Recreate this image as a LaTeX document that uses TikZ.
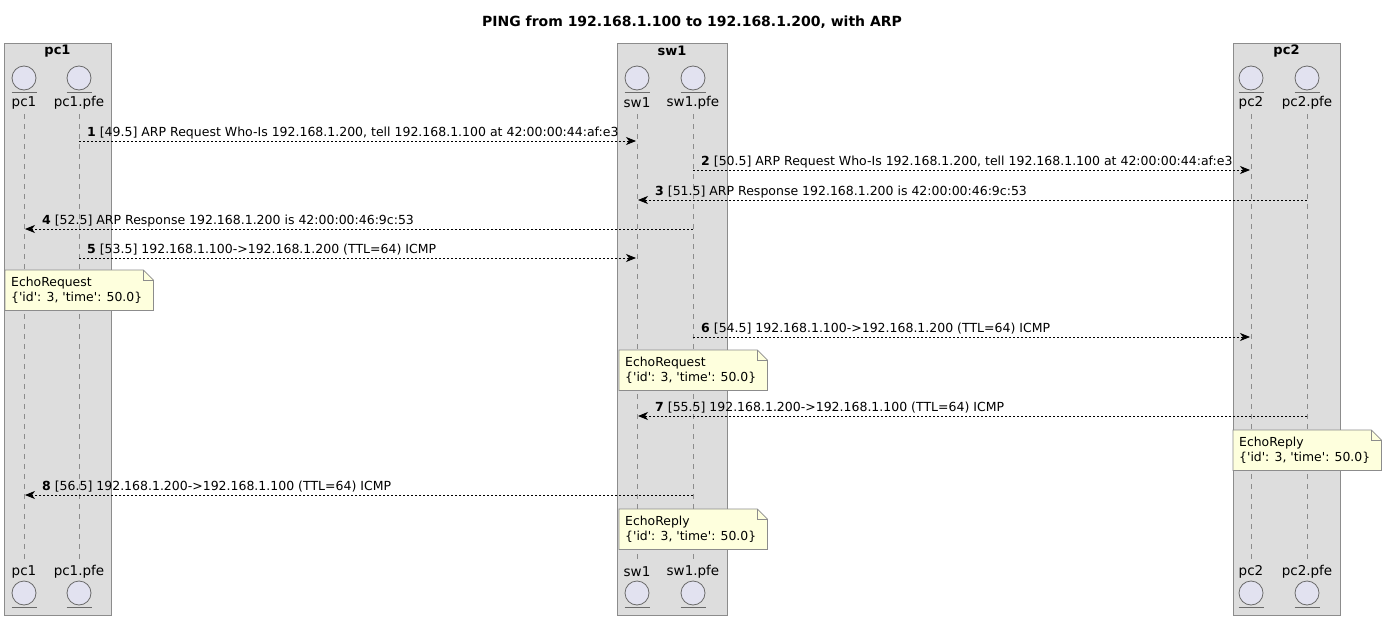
\documentclass[tikz,border=0pt]{standalone}
\usepackage{fontspec}
\setmainfont{DejaVu Sans}
\usetikzlibrary{arrows.meta}

\definecolor{grpfill}{HTML}{DDDDDD}
\definecolor{grpline}{HTML}{8C8C8C}
\definecolor{entfill}{HTML}{E2E2F0}
\definecolor{entline}{HTML}{6A6A6A}
\definecolor{notefill}{HTML}{FEFFDD}
\definecolor{noteline}{HTML}{8C8C8C}
\definecolor{lifecol}{HTML}{8C8C8C}

\newcommand{\q}{\textquotesingle}
\newcommand{\entitymark}[3]{% name, x, y of circle centre
  \node[entcirc] (#1) at (#2,#3) {};
  \draw[entline, line width=1pt] ([xshift=-12.5pt,yshift=-14pt]#1.center) -- ([xshift=12.5pt,yshift=-14pt]#1.center);
}
\newcommand{\notebox}[4]{% name, x, y, text
  \node[notenode] (#1) at (#2,#3) {};
  \draw[noteline, fill=notefill, line width=0.8pt] (#1.north west) -- ([xshift=-10pt]#1.north east) -- ([yshift=-10pt]#1.north east) -- (#1.south east) -- (#1.south west) -- cycle;
  \draw[noteline, line width=0.8pt] ([xshift=-10pt]#1.north east) -- ([xshift=-10pt,yshift=-10pt]#1.north east) -- ([yshift=-10pt]#1.north east);
  \node[notetext] (#1-text) at (#1.west) {#4};
}

\begin{document}
\begin{tikzpicture}[x=1pt, y=-1pt,
  grp/.style={draw=grpline, fill=grpfill, line width=1pt},
  grptitle/.style={font=\fontsize{13}{15}\selectfont\bfseries, inner sep=0pt},
  entcirc/.style={circle, draw=entline, fill=entfill, line width=0.8pt, minimum size=24pt, inner sep=0pt},
  entname/.style={font=\fontsize{13.5}{16}\selectfont, inner sep=0pt},
  life/.style={draw=lifecol, line width=0.8pt, dash pattern=on 5pt off 5pt},
  msg/.style={draw=black, line width=0.8pt, dash pattern=on 2pt off 2pt, -{Stealth[length=10pt, width=8pt, inset=3pt]}},
  msglabel/.style={font=\fontsize{12.5}{15}\selectfont, anchor=base west, inner sep=0pt},
  notenode/.style={minimum width=148pt, minimum height=40pt, inner sep=0pt, anchor=north west},
  notetext/.style={font=\fontsize{12.4}{15}\selectfont, align=left, anchor=west, xshift=6pt, inner sep=0pt},
  ttl/.style={font=\fontsize{14}{16}\selectfont\bfseries, inner sep=0pt}
]
\useasboundingbox (0,0) rectangle (1387,621);

% title
\node[ttl] (title) at (692,22) {PING from 192.168.1.100 to 192.168.1.200, with ARP};

% groups
\draw[grp] (4,43) rectangle (111,615);
\draw[grp] (617,43) rectangle (727,615);
\draw[grp] (1233,43) rectangle (1340,615);
\node[grptitle] (g1) at (57.5,51) {pc1};
\node[grptitle] (g2) at (672,51) {sw1};
\node[grptitle] (g3) at (1286.5,51) {pc2};

% participants, head row
\entitymark{pc1}{24}{78}
\entitymark{pc1pfe}{79}{78}
\entitymark{sw1}{637}{78}
\entitymark{sw1pfe}{693}{78}
\entitymark{pc2}{1251}{78}
\entitymark{pc2pfe}{1307}{78}
% participants, foot row
\entitymark{pc1b}{24}{593}
\entitymark{pc1pfeb}{79}{593}
\entitymark{sw1b}{637}{593}
\entitymark{sw1pfeb}{693}{593}
\entitymark{pc2b}{1251}{593}
\entitymark{pc2pfeb}{1307}{593}

\foreach \n/\t in {pc1/pc1, pc1pfe/pc1.pfe, sw1/sw1, sw1pfe/sw1.pfe, pc2/pc2, pc2pfe/pc2.pfe}{
  \node[entname] (\n-top) at ([yshift=-25pt]\n.center) {\t};
  \node[entname] (\n-bot) at ([yshift=21pt]\n b.center) {\t};
}

% lifelines
\foreach \n in {pc1, pc1pfe, sw1, sw1pfe, pc2, pc2pfe}{
  \draw[life] ([yshift=-11pt]\n-top.center) -- ([yshift=10pt]\n-bot.center);
}

% message rows
\coordinate (r1) at (0,141);
\coordinate (r2) at (0,170);
\coordinate (r3) at (0,200);
\coordinate (r4) at (0,229);
\coordinate (r5) at (0,258);
\coordinate (r6) at (0,337);
\coordinate (r7) at (0,416);
\coordinate (r8) at (0,495);

\draw[msg] (pc1pfe |- r1) -- ([xshift=-1pt]sw1 |- r1);
\node[msglabel] (l1) at ([xshift=8pt,yshift=4.5pt]pc1pfe |- r1) {\textbf{1} [49.5] ARP Request Who-Is 192.168.1.200, tell 192.168.1.100 at 42:00:00:44:af:e3};

\draw[msg] (sw1pfe |- r2) -- ([xshift=-1pt]pc2 |- r2);
\node[msglabel] (l2) at ([xshift=8pt,yshift=4.5pt]sw1pfe |- r2) {\textbf{2} [50.5] ARP Request Who-Is 192.168.1.200, tell 192.168.1.100 at 42:00:00:44:af:e3};

\draw[msg] (pc2pfe |- r3) -- ([xshift=1pt]sw1 |- r3);
\node[msglabel] (l3) at ([xshift=18pt,yshift=4.5pt]sw1 |- r3) {\textbf{3} [51.5] ARP Response 192.168.1.200 is 42:00:00:46:9c:53};

\draw[msg] (sw1pfe |- r4) -- ([xshift=1pt]pc1 |- r4);
\node[msglabel] (l4) at ([xshift=18pt,yshift=4.5pt]pc1 |- r4) {\textbf{4} [52.5] ARP Response 192.168.1.200 is 42:00:00:46:9c:53};

\draw[msg] (pc1pfe |- r5) -- ([xshift=-1pt]sw1 |- r5);
\node[msglabel] (l5) at ([xshift=8pt,yshift=4.5pt]pc1pfe |- r5) {\textbf{5} [53.5] 192.168.1.100->192.168.1.200 (TTL=64) ICMP};

\notebox{n1}{5}{270}{EchoRequest\\\{\q id\q: 3, \q time\q: 50.0\}}

\draw[msg] (sw1pfe |- r6) -- ([xshift=-1pt]pc2 |- r6);
\node[msglabel] (l6) at ([xshift=8pt,yshift=4.5pt]sw1pfe |- r6) {\textbf{6} [54.5] 192.168.1.100->192.168.1.200 (TTL=64) ICMP};

\notebox{n2}{619}{350}{EchoRequest\\\{\q id\q: 3, \q time\q: 50.0\}}

\draw[msg] (pc2pfe |- r7) -- ([xshift=1pt]sw1 |- r7);
\node[msglabel] (l7) at ([xshift=18pt,yshift=4.5pt]sw1 |- r7) {\textbf{7} [55.5] 192.168.1.200->192.168.1.100 (TTL=64) ICMP};

\notebox{n3}{1233}{430}{EchoReply\\\{\q id\q: 3, \q time\q: 50.0\}}

\draw[msg] (sw1pfe |- r8) -- ([xshift=1pt]pc1 |- r8);
\node[msglabel] (l8) at ([xshift=18pt,yshift=4.5pt]pc1 |- r8) {\textbf{8} [56.5] 192.168.1.200->192.168.1.100 (TTL=64) ICMP};

\notebox{n4}{619}{509}{EchoReply\\\{\q id\q: 3, \q time\q: 50.0\}}

\end{tikzpicture}
\end{document}
